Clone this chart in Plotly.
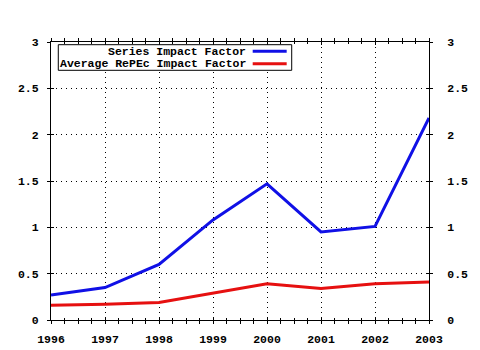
import plotly.graph_objects as go

years = [1996, 1997, 1998, 1999, 2000, 2001, 2002, 2003]
series_if = [0.27, 0.35, 0.60, 1.08, 1.47, 0.95, 1.01, 2.18]
repec_if = [0.16, 0.17, 0.19, 0.29, 0.39, 0.34, 0.39, 0.41]
names = ["Series Impact Factor", "Average RePEc Impact Factor"]
colors = ["#1010e6", "#e61010"]

BFONT = dict(family="Liberation Mono", size=11.5, color="black", weight="bold")

fig = go.Figure()
for ys, nm, c in zip([series_if, repec_if], names, colors):
    fig.add_trace(go.Scatter(x=years, y=ys, mode="lines", name=nm,
                             line=dict(color=c, width=3), showlegend=False))
# dummy traces to anchor extra axes
fig.add_trace(go.Scatter(x=[None], y=[None], xaxis="x", yaxis="y2", showlegend=False, hoverinfo="skip"))
fig.add_trace(go.Scatter(x=[None], y=[None], xaxis="x2", yaxis="y3", showlegend=False, hoverinfo="skip"))

xr = [1996, 2003]
yr = [0, 3]
common_x = dict(range=xr, dtick=1, tick0=1996, linecolor="black", linewidth=1, showline=True,
                zeroline=False, fixedrange=True, automargin=False)
common_y = dict(range=yr, dtick=0.5, tick0=0, linecolor="black", linewidth=1, showline=True,
                zeroline=False, fixedrange=True, automargin=False)

fig.update_layout(
    width=480, height=350,
    margin=dict(l=51, r=51, t=42, b=30),
    paper_bgcolor="white", plot_bgcolor="white",
    showlegend=False,
    xaxis=dict(**common_x, ticks="outside", ticklen=3, tickcolor="black", mirror="allticks",
               showgrid=True, gridcolor="black", griddash="1px,4px", gridwidth=1,
               tickfont=BFONT, tickformat="d", ticklabelstandoff=5,
               minor=dict(ticks="outside", ticklen=2, dtick=0.25, tick0=1996, tickcolor="black", showgrid=False)),
    yaxis=dict(**common_y, ticks="outside", ticklen=3, tickcolor="black", mirror="allticks",
               showgrid=True, gridcolor="black", griddash="1px,4px", gridwidth=1,
               tickfont=BFONT, ticklabelstandoff=6),
    yaxis2=dict(**common_y, overlaying="y", side="right", ticks="outside", ticklen=3, tickcolor="black",
                showgrid=False, tickfont=BFONT, ticklabelstandoff=12),
    xaxis2=dict(**common_x, overlaying="x", ticks="inside", ticklen=3, tickcolor="black", mirror="allticks",
                showticklabels=False, showgrid=False,
                minor=dict(ticks="inside", ticklen=2, dtick=0.25, tick0=1996, tickcolor="black", showgrid=False)),
    yaxis3=dict(**common_y, overlaying="y", anchor="x2", ticks="inside", ticklen=3, tickcolor="black", mirror="allticks",
                showticklabels=False, showgrid=False),
)

# legend drawn manually (gnuplot style: right-aligned text, sample to the right)
fig.add_shape(type="rect", xref="paper", yref="paper", x0=0.0193, x1=0.6368, y0=0.8982, y1=0.9903,
              line=dict(color="black", width=1), fillcolor="white", layer="above")
rows_y = [0.9665, 0.9219]
for nm, c, yy in zip(names, colors, rows_y):
    fig.add_annotation(xref="paper", yref="paper", x=0.5159, y=yy, text=nm, showarrow=False,
                       xanchor="right", yanchor="middle", font=BFONT, xshift=2)
    fig.add_shape(type="line", xref="paper", yref="paper", x0=0.5336, x1=0.6235, y0=yy, y1=yy,
                  line=dict(color=c, width=3), layer="above")

fig.write_html("out.html")
